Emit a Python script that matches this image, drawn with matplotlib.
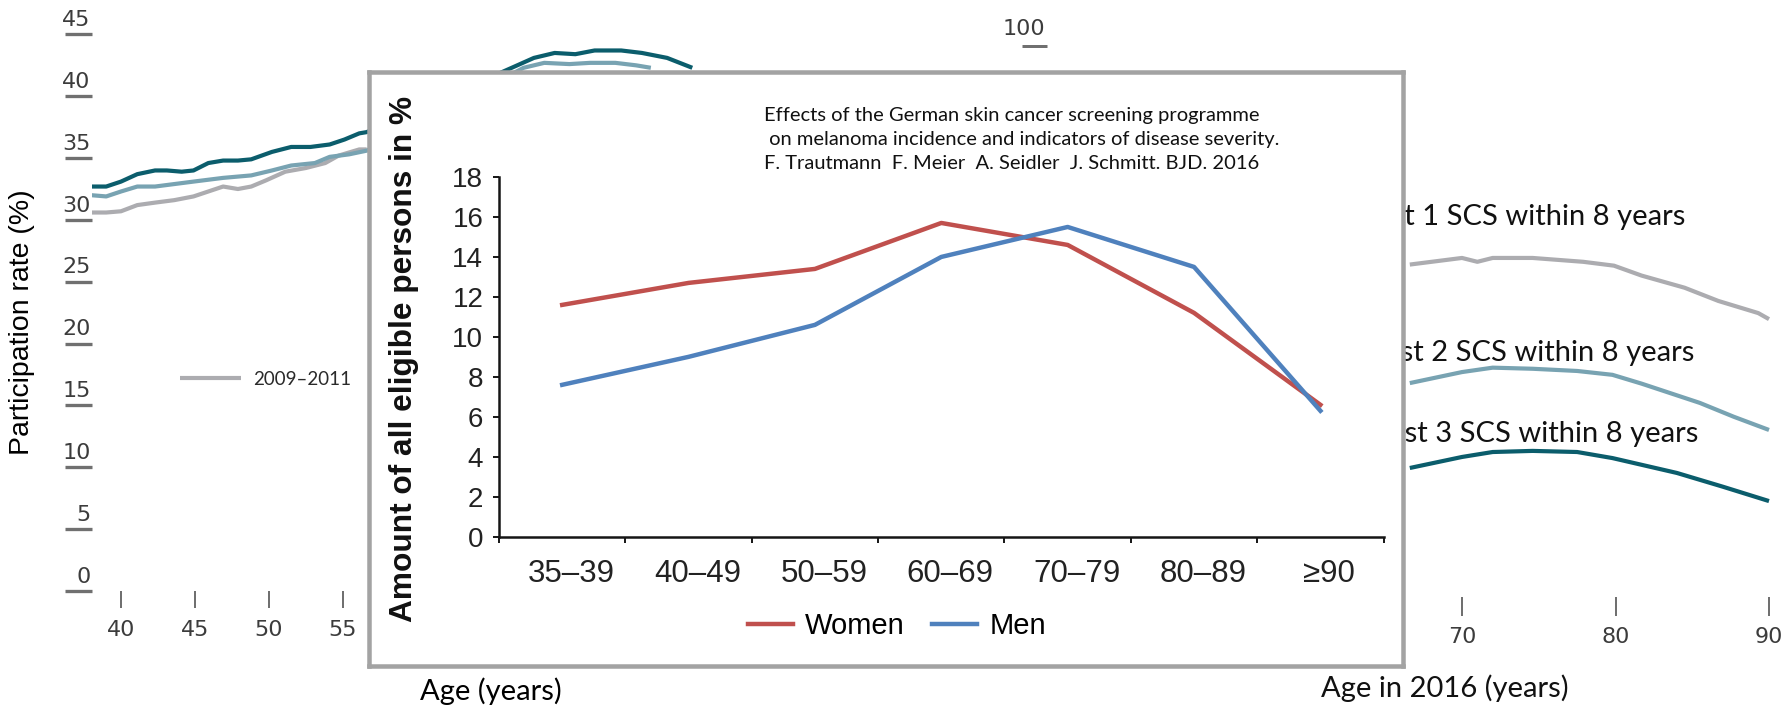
import numpy as np
import matplotlib
matplotlib.use("Agg")
import matplotlib.pyplot as plt
from matplotlib import font_manager as fm
from matplotlib.transforms import ScaledTranslation

# ---------------- data ----------------
# Background, left panel: participation rate (%) by age
left_dark_age = [38.0, 39.0, 40.0, 41.1, 42.3, 43.1, 44.1, 44.9, 45.9, 46.9, 47.9, 48.8,
                 50.2, 51.5, 52.8, 54.1, 55.1, 56.1, 56.6,
                 66.4, 67.9, 69.3, 70.7, 72.0, 73.8, 75.2, 76.9, 78.6]
left_dark_val = [32.7, 32.7, 33.1, 33.7, 34.0, 34.0, 33.9, 34.0, 34.6, 34.8, 34.8, 34.9,
                 35.5, 35.9, 35.9, 36.1, 36.5, 37.0, 37.1,
                 42.3, 43.1, 43.5, 43.4, 43.7, 43.7, 43.5, 43.1, 42.3]
left_light_age = [38.0, 39.0, 40.0, 41.1, 42.3, 44.9, 46.9, 48.8, 50.2, 51.5, 53.1, 54.1,
                  55.4, 56.6, 67.2, 68.6, 70.3, 71.7, 73.4, 74.8, 75.8]
left_light_val = [32.0, 31.9, 32.3, 32.7, 32.7, 33.1, 33.4, 33.6, 34.0, 34.4, 34.6, 35.1,
                  35.3, 35.6, 42.3, 42.7, 42.6, 42.7, 42.7, 42.5, 42.3]
left_gray_age = [38.0, 39.0, 40.0, 41.1, 42.3, 43.6, 44.9, 45.9, 46.9, 47.9, 48.8, 49.8,
                 51.1, 52.5, 53.8, 54.7, 56.1, 56.6]
left_gray_val = [30.6, 30.6, 30.7, 31.2, 31.4, 31.6, 31.9, 32.3, 32.7, 32.5, 32.7, 33.2,
                 33.9, 34.2, 34.6, 35.2, 35.7, 35.7]
left_legend_label = "2009\u20132011"
left_yticks = [0, 5, 10, 15, 20, 25, 30, 35, 40, 45]
left_xticks = [40, 45, 50, 55]

# Background, right panel: at least N SCS within 8 years by age in 2016
right_gray_age = [66.6, 70.0, 71.0, 72.0, 74.6, 77.9, 79.9, 81.7, 84.5, 86.7, 89.3, 90.0]
right_gray_val = [60.3, 61.5, 60.8, 61.5, 61.5, 60.8, 60.1, 58.3, 56.1, 53.7, 51.5, 50.4]
right_light_age = [66.6, 70.0, 72.0, 74.6, 77.5, 79.8, 81.7, 85.5, 87.7, 90.0]
right_light_val = [38.8, 40.8, 41.6, 41.4, 41.0, 40.3, 38.7, 35.2, 32.7, 30.3]
right_dark_age = [66.6, 70.0, 72.0, 74.6, 77.5, 79.8, 84.0, 87.0, 90.0]
right_dark_val = [23.4, 25.4, 26.3, 26.5, 26.3, 25.2, 22.5, 20.0, 17.4]
right_labels = ["At least 1 SCS within 8 years",
                "At least 2 SCS within 8 years",
                "At least 3 SCS within 8 years"]
right_yticks = [100]
right_xticks = [70, 80, 90]

# Inset: share of all eligible persons (%)
inset_categories = ["35\u201339", "40\u201349", "50\u201359", "60\u201369", "70\u201379", "80\u201389", "\u226590"]
inset_women = [11.6, 12.7, 13.4, 15.7, 14.6, 11.2, 6.6]
inset_men = [7.6, 9.0, 10.6, 14.0, 15.5, 13.5, 6.3]
inset_yticks = [0, 2, 4, 6, 8, 10, 12, 14, 16, 18]
inset_title = ("Effects of the German skin cancer screening programme\n"
               " on melanoma incidence and indicators of disease severity.\n"
               "F. Trautmann  F. Meier  A. Seidler  J. Schmitt. BJD. 2016")

# ---------------- style ----------------
W, H, DPI = 1789, 707, 100
names = {f.name for f in fm.fontManager.ttflist}
NARROW = "Liberation Sans Narrow" if "Liberation Sans Narrow" in names else "DejaVu Sans"
ARIAL = "Liberation Sans" if "Liberation Sans" in names else "DejaVu Sans"
CAL = "Lato" if "Lato" in names else "DejaVu Sans"

DARK = "#0b5d6c"
LIGHT = "#78a3b2"
GRAY = "#acacb0"
RED = "#c0504d"
BLUE = "#4f81bd"
TICKGRAY = "#707070"
LABGRAY = "#3c3c3c"


def fx(px):
    return px / W


def fy(py):
    return 1 - py / H


def px2pt(p):
    return p * 72.0 / DPI


fig = plt.figure(figsize=(W / DPI, H / DPI), dpi=DPI)
fig.patch.set_facecolor("white")

# ---------- left background panel ----------
l_x0, l_x1, l_y0, l_y1 = 92, 786, 591, 34.4
ax_l = fig.add_axes([fx(l_x0), fy(l_y0), (l_x1 - l_x0) / W, (l_y0 - l_y1) / H])
ax_l.set_zorder(0)
ax_l.set_facecolor("none")
ax_l.set_xlim(40 + (l_x0 - 121) / 14.8, 40 + (l_x1 - 121) / 14.8)
ax_l.set_ylim(0, 45)
for s in ax_l.spines.values():
    s.set_visible(False)
ax_l.plot(left_gray_age, left_gray_val, color=GRAY, lw=3.0, solid_capstyle="butt")
ax_l.plot(left_light_age, left_light_val, color=LIGHT, lw=3.0, solid_capstyle="butt")
ax_l.plot(left_dark_age, left_dark_val, color=DARK, lw=3.0, solid_capstyle="butt")
gray_handle = ax_l.lines[0]

ax_l.set_yticks(left_yticks)
ax_l.set_yticklabels([str(v) for v in left_yticks])
ax_l.tick_params(axis="y", length=px2pt(26.7), width=px2pt(3.3), color=TICKGRAY,
                 pad=-px2pt(26.7) + 1, labelsize=16, labelcolor=LABGRAY)
ax_l.set_xticks(left_xticks)
ax_l.set_xticklabels([str(v) for v in left_xticks])
ax_l.tick_params(axis="x", length=px2pt(17), width=px2pt(2), color=TICKGRAY,
                 pad=9, labelsize=16, labelcolor=LABGRAY)
for lab in ax_l.get_yticklabels() + ax_l.get_xticklabels():
    lab.set_family(NARROW)
off_up = ScaledTranslation(0, 16.3 / DPI, fig.dpi_scale_trans)
for lab in ax_l.get_yticklabels():
    lab.set_transform(lab.get_transform() + off_up)

ax_l.legend([gray_handle], [left_legend_label], loc="center left",
            bbox_to_anchor=(fx(180), fy(379.5)), bbox_transform=fig.transFigure,
            frameon=False, borderpad=0, borderaxespad=0, handlelength=3.24,
            handletextpad=0.64, prop={"family": CAL, "size": 13.5},
            labelcolor="#2a2a2a")

ax_l.text(fx(22), fy(322), "Participation rate (%)", transform=fig.transFigure,
          rotation=90, ha="center", va="center", fontsize=20.5, family=ARIAL)
ax_l.text(fx(491), fy(691), "Age (years)", transform=fig.transFigure,
          ha="center", va="center", fontsize=21, family=CAL)

# ---------- right background panel ----------
r_x0, r_x1, r_y0, r_y1 = 1047, 1789, 597, 45.7
ax_r = fig.add_axes([fx(r_x0), fy(r_y0), (r_x1 - r_x0) / W, (r_y0 - r_y1) / H])
ax_r.set_zorder(0)
ax_r.set_facecolor("none")
ax_r.set_xlim(70 + (r_x0 - 1462) / 15.35, 70 + (r_x1 - 1462) / 15.35)
ax_r.set_ylim(0, 100)
for s in ax_r.spines.values():
    s.set_visible(False)
ax_r.plot(right_gray_age, right_gray_val, color=GRAY, lw=3.0, solid_capstyle="butt")
ax_r.plot(right_light_age, right_light_val, color=LIGHT, lw=3.0, solid_capstyle="butt")
ax_r.plot(right_dark_age, right_dark_val, color=DARK, lw=3.0, solid_capstyle="butt")
ax_r.set_yticks(right_yticks)
ax_r.set_yticklabels([str(v) for v in right_yticks])
ax_r.tick_params(axis="y", length=px2pt(25), width=px2pt(3), color=TICKGRAY,
                 pad=-px2pt(25) + 1, labelsize=16, labelcolor=LABGRAY)
ax_r.set_xticks(right_xticks)
ax_r.set_xticklabels([str(v) for v in right_xticks])
ax_r.tick_params(axis="x", length=px2pt(19), width=px2pt(2), color=TICKGRAY,
                 pad=8, labelsize=16, labelcolor=LABGRAY)
for lab in ax_r.get_yticklabels() + ax_r.get_xticklabels():
    lab.set_family(NARROW)
off_up_r = ScaledTranslation(0, 18.7 / DPI, fig.dpi_scale_trans)
for lab in ax_r.get_yticklabels():
    lab.set_transform(lab.get_transform() + off_up_r)

for txt, (tx, ty) in zip(right_labels, [(1685, 217), (1694, 353), (1698, 434)]):
    ax_r.text(fx(tx), fy(ty), txt, transform=fig.transFigure, ha="right", va="center",
              fontsize=21, family=CAL, color="#111111")
ax_r.text(fx(1445), fy(688), "Age in 2016 (years)", transform=fig.transFigure,
          ha="center", va="center", fontsize=21, family=CAL, color="#111111")

# ---------- framed inset ----------
bx0, bx1, by0, by1 = 369, 1403, 72, 666
ax_b = fig.add_axes([fx(bx0), fy(by1), (bx1 - bx0) / W, (by1 - by0) / H])
ax_b.set_zorder(5)
ax_b.set_facecolor("white")
ax_b.set_xticks([])
ax_b.set_yticks([])
for s in ax_b.spines.values():
    s.set_color("#a3a3a3")
    s.set_linewidth(px2pt(4.5))

i_x0, i_x1, i_y0, i_y1 = 499, 1383.6, 536.7, 177
ax_i = fig.add_axes([fx(i_x0), fy(i_y0), (i_x1 - i_x0) / W, (i_y0 - i_y1) / H])
ax_i.set_zorder(6)
ax_i.set_facecolor("none")
xi = np.arange(len(inset_categories))
ax_i.plot(xi, inset_women, color=RED, lw=3.2, label="Women")
ax_i.plot(xi, inset_men, color=BLUE, lw=3.2, label="Men")
ax_i.set_xlim(-0.5, len(inset_categories) - 0.5)
ax_i.set_ylim(0, 18)
ax_i.spines["top"].set_visible(False)
ax_i.spines["right"].set_visible(False)
for k in ("left", "bottom"):
    ax_i.spines[k].set_color("#151515")
    ax_i.spines[k].set_linewidth(1.8)
ax_i.set_yticks(inset_yticks)
ax_i.set_yticklabels([str(v) for v in inset_yticks])
ax_i.set_xticks(xi)
ax_i.set_xticklabels(inset_categories)
ax_i.set_xticks(np.arange(-0.5, len(inset_categories), 1.0), minor=True)
ax_i.tick_params(axis="y", length=px2pt(6), width=1.4, color="#151515", pad=7,
                 labelsize=20, labelcolor="#222222")
ax_i.tick_params(axis="x", which="major", length=0, pad=16, labelsize=22.5,
                 labelcolor="#222222")
ax_i.tick_params(axis="x", which="minor", length=px2pt(6), width=1.4, color="#151515")
for lab in ax_i.get_yticklabels() + ax_i.get_xticklabels():
    lab.set_family(ARIAL)
off_r = ScaledTranslation(9 / DPI, 0, fig.dpi_scale_trans)
for lab in ax_i.get_xticklabels():
    lab.set_transform(lab.get_transform() + off_r)

ax_i.text(fx(404), fy(358.5), "Amount of all eligible persons in %", transform=fig.transFigure,
          rotation=90, ha="center", va="center", fontsize=22.8, fontweight="bold",
          family=ARIAL, color="#111111")
ax_i.text(fx(764), fy(107), inset_title, transform=fig.transFigure, ha="left", va="top",
          fontsize=14.5, family=CAL, color="#111111", linespacing=1.5)
ax_i.legend(loc="center", bbox_to_anchor=(fx(897), fy(626)), bbox_transform=fig.transFigure,
            ncol=2, frameon=False, handlelength=1.55, handletextpad=0.41, columnspacing=0.93,
            prop={"family": ARIAL, "size": 21}, borderpad=0, borderaxespad=0)

fig.savefig("out.png", dpi=DPI, facecolor="white")
